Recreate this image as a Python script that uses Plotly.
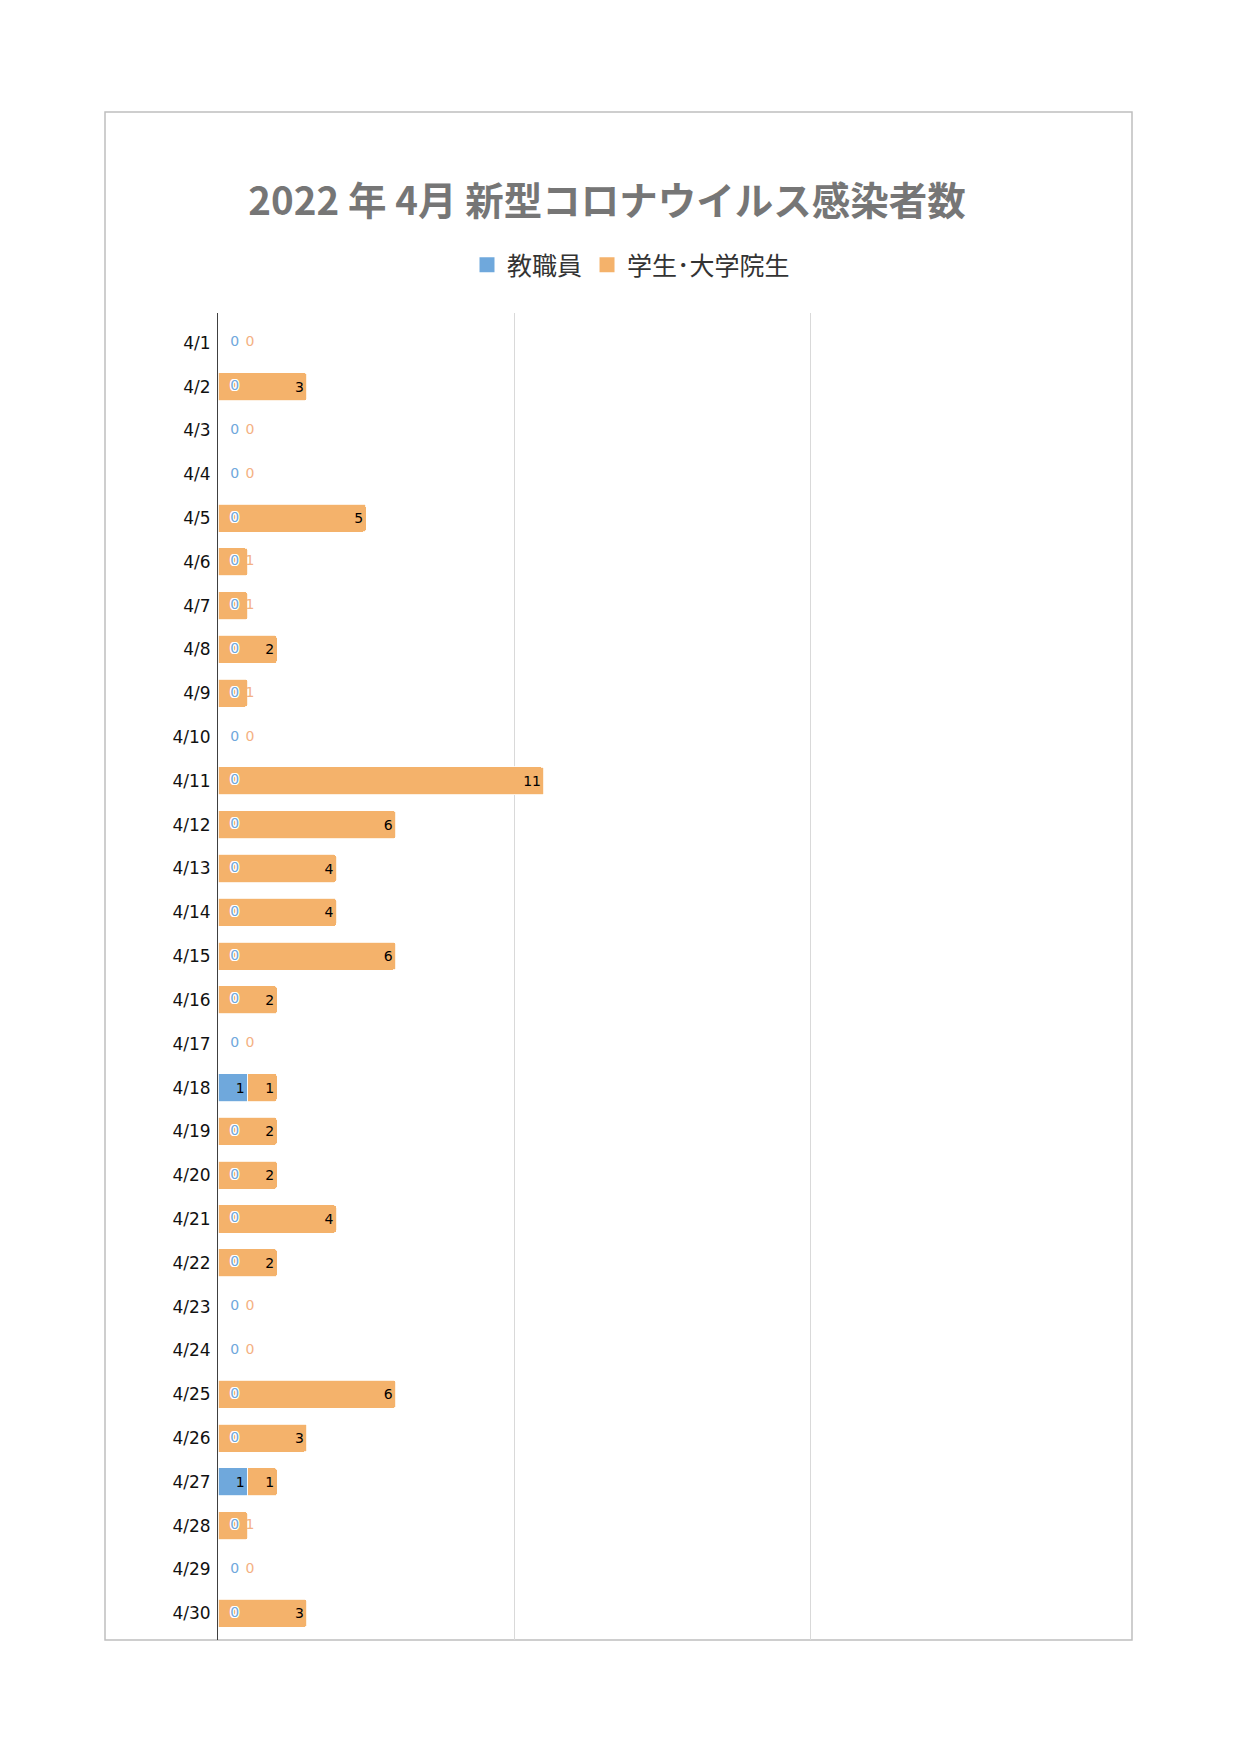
import plotly.graph_objects as go

dates = ["4/1", "4/2", "4/3", "4/4", "4/5", "4/6", "4/7", "4/8", "4/9", "4/10",
         "4/11", "4/12", "4/13", "4/14", "4/15", "4/16", "4/17", "4/18", "4/19", "4/20",
         "4/21", "4/22", "4/23", "4/24", "4/25", "4/26", "4/27", "4/28", "4/29", "4/30"]
staff = [0, 0, 0, 0, 0, 0, 0, 0, 0, 0,
         0, 0, 0, 0, 0, 0, 0, 1, 0, 0,
         0, 0, 0, 0, 0, 0, 1, 0, 0, 0]
students = [0, 3, 0, 0, 5, 1, 1, 2, 1, 0,
            11, 6, 4, 4, 6, 2, 0, 1, 2, 2,
            4, 2, 0, 0, 6, 3, 1, 1, 0, 3]

title_text = "2022 年 4月 新型コロナウイルス感染者数"
name_staff = "教職員"
name_students = "学生･大学院生"

BLUE = "#6FA8DC"
ORANGE = "#F4B26B"
BLUE_TXT = "#6FA8DC"
ORANGE_TXT = "#F4B183"
HALO = "-1px -1px 0 #fff, 1px -1px 0 #fff, -1px 1px 0 #fff, 1px 1px 0 #fff, 0 1px 0 #fff, 0 -1px 0 #fff, 1px 0 0 #fff, -1px 0 0 #fff"
LBL_FONT = "DejaVu Sans"
LBL_SIZE = 14

# label decisions derived from data
staff_in = [str(v) if v > 0 else "" for v in staff]
stud_fits = [(s >= 2) or (s >= 1 and t >= 1) for s, t in zip(students, staff)]
stud_in = [str(s) if f else "" for s, f in zip(students, stud_fits)]

zero_staff_y = [d for d, t in zip(dates, staff) if t == 0]
zero_staff_x = [0.56 for t in staff if t == 0]
zero_staff_txt = ["0" for t in staff if t == 0]

out_stud_y = [d for d, f in zip(dates, stud_fits) if not f]
out_stud_x = [0.93 for f in stud_fits if not f]
out_stud_txt = [str(s) for s, f in zip(students, stud_fits) if not f]

fig = go.Figure()
fig.add_trace(go.Bar(
    y=dates, x=staff, orientation="h", name=name_staff, showlegend=False,
    marker=dict(color=BLUE, line=dict(color="white", width=0.8)),
    text=staff_in, textposition="inside", insidetextanchor="end",
    insidetextfont=dict(family=LBL_FONT, size=LBL_SIZE, color="#000"),
    constraintext="none", hoverinfo="skip",
))
fig.add_trace(go.Bar(
    y=dates, x=students, orientation="h", name=name_students, showlegend=False,
    marker=dict(color=ORANGE, line=dict(color="white", width=0.8)),
    text=stud_in, textposition="inside", insidetextanchor="end",
    insidetextfont=dict(family=LBL_FONT, size=LBL_SIZE, color="#000"),
    constraintext="none", hoverinfo="skip",
))
fig.add_trace(go.Scatter(
    y=out_stud_y, x=out_stud_x, mode="text", text=out_stud_txt,
    textposition="middle right",
    textfont=dict(family=LBL_FONT, size=LBL_SIZE, color=ORANGE_TXT),
    showlegend=False, hoverinfo="skip",
))
fig.add_trace(go.Scatter(
    y=zero_staff_y, x=zero_staff_x, mode="text", text=zero_staff_txt,
    textposition="middle center",
    textfont=dict(family=LBL_FONT, size=LBL_SIZE, color=BLUE_TXT, shadow=HALO),
    showlegend=False, hoverinfo="skip",
))
# legend entries (square swatches)
for nm, col in [(name_staff, BLUE), (name_students, ORANGE)]:
    fig.add_trace(go.Scatter(
        x=[None], y=[None], mode="markers", name=nm,
        marker=dict(symbol="square", size=15, color=col), hoverinfo="skip",
    ))

W, H = 1240, 1755
L, R, T, B = 218, 133, 313, 115
pw, ph = W - L - R, H - T - B

fig.update_layout(
    width=W, height=H,
    margin=dict(l=L, r=R, t=T, b=B),
    paper_bgcolor="white", plot_bgcolor="white",
    barmode="stack", bargap=0.36, barcornerradius=3,
    title=dict(text=title_text, xref="container", x=607 / W, xanchor="center",
               yref="container", y=1 - 202 / H, yanchor="middle",
               font=dict(family="Noto Sans CJK JP", size=38.5, color="#767676", weight="bold")),
    legend=dict(orientation="h", xref="container", x=631 / W, xanchor="center",
                yref="container", y=1 - 265 / H, yanchor="middle",
                font=dict(family="Noto Sans CJK JP", size=25, color="#333"),
                itemwidth=30, itemsizing="trace", traceorder="normal"),
    xaxis=dict(range=[0, 30], dtick=10, showgrid=True, gridcolor="#D9D9D9", gridwidth=1,
               showticklabels=False, zeroline=False, showline=False, fixedrange=True),
    yaxis=dict(type="category", categoryorder="array", categoryarray=dates,
               range=[29.61, -0.68], showline=True, linecolor="#404040", linewidth=1,
               showgrid=False, ticks="", ticklabelstandoff=3,
               tickfont=dict(family="DejaVu Sans", size=17, color="#111")),
    showlegend=True,
)

fig.add_shape(type="rect", xref="paper", yref="paper",
              x0=(105 - L) / pw, x1=(1132 - L) / pw,
              y0=0, y1=1 + (T - 112) / ph,
              line=dict(color="#BFBFBF", width=1.5), layer="below")

fig.write_html("out.html")
